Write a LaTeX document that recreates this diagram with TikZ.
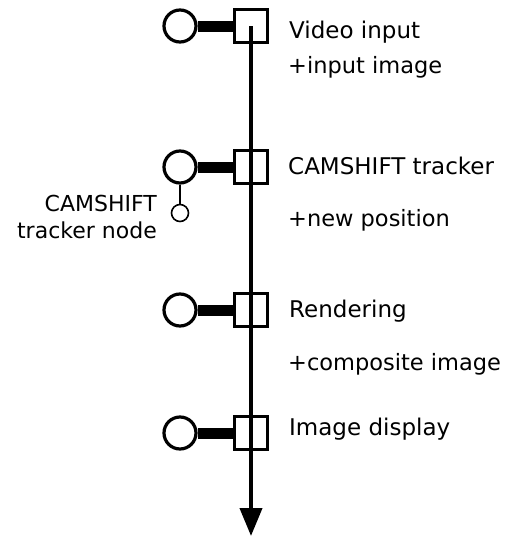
\documentclass[tikz,border=0pt]{standalone}
\usepackage{fontspec}
\setmainfont{DejaVu Sans}
\usepackage{tikz}
\usetikzlibrary{arrows.meta, positioning, calc}

\tikzset{
    port/.style={circle, draw=black, line width=3.2pt, minimum size=32pt, inner sep=0pt},
    subport/.style={circle, draw=black, line width=1.6pt, minimum size=17pt, inner sep=0pt},
    stagebox/.style={rectangle, draw=black, line width=3pt, minimum size=33pt, inner sep=0pt},
    stagetext/.style={anchor=base west, inner sep=0pt, font=\fontsize{23}{27}\selectfont},
    datatext/.style={anchor=base west, inner sep=0pt, font=\fontsize{22.5}{27}\selectfont},
    link/.style={line width=11pt},
    pipe/.style={line width=4pt, -{Triangle[length=28pt, width=22pt]}}
}

\begin{document}
\begin{tikzpicture}[x=1pt, y=-1pt]
        \useasboundingbox (0,0) rectangle (520,538);

        % stages of the pipeline
        \node[stagebox] (video)  at (251,26)  {};
        \node[stagebox] (camshift) at (251,167) {};
        \node[stagebox] (render) at (251,310) {};
        \node[stagebox] (display) at (251,433) {};

        \node[port] (videoport)   at (180,26)  {};
        \node[port] (camshiftport) at (180,167) {};
        \node[port] (renderport)  at (180,310) {};
        \node[port] (displayport) at (180,433) {};

        \foreach \s in {video, camshift, render, display}
            \draw[link] (\s port) -- (\s);

        % tracker sub-node
        \node[subport] (trackernode) at (180,213) {};
        \draw[line width=1.4pt] (camshiftport) -- (trackernode);
        \node[anchor=east, align=right, inner sep=0pt, font=\fontsize{22}{27}\selectfont]
            (trackerlabel) at (157,217) {CAMSHIFT\\tracker node};

        % data flow
        \coordinate (flowend) at (251,536);
        \draw[pipe] (video.center) -- (flowend);

        % labels
        \node[stagetext] (videotext)    at (289,38)  {Video input};
        \node[datatext]  (inputimage)   at (288,73)  {+input image};
        \node[stagetext] (camshifttext) at (288,174) {CAMSHIFT tracker};
        \node[datatext]  (newposition)  at (288,226) {+new position};
        \node[stagetext] (rendertext)   at (289,317) {Rendering};
        \node[datatext]  (compimage)    at (288,370) {+composite image};
        \node[stagetext] (displaytext)  at (289,435) {Image display};
    \end{tikzpicture}
\end{document}
